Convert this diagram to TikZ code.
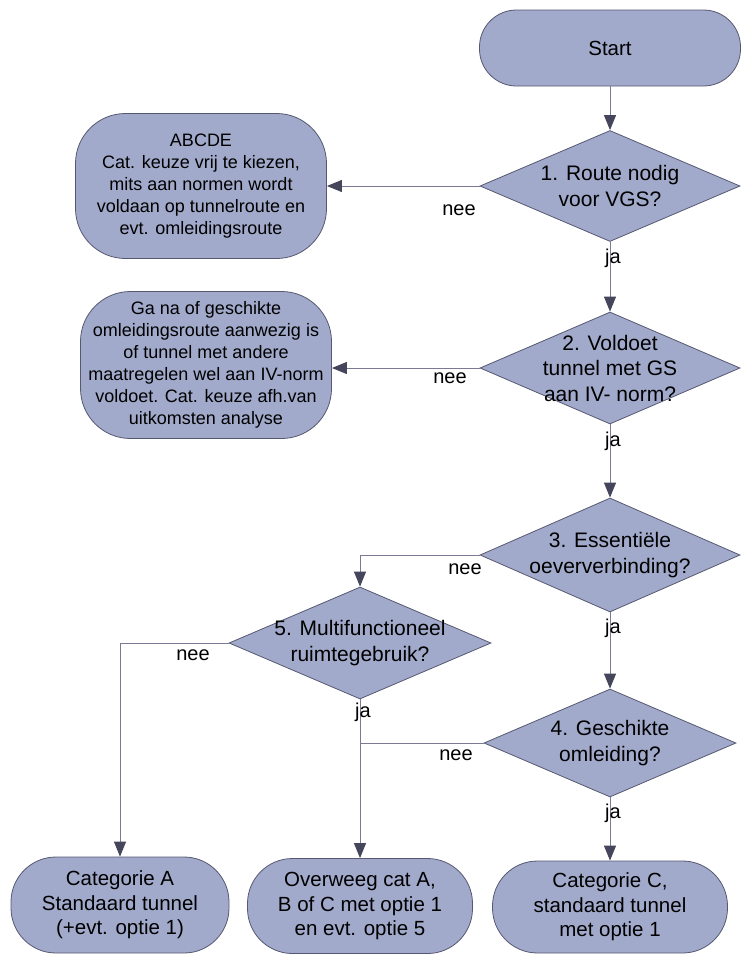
\documentclass[tikz,border=0pt]{standalone}
\usepackage{fontspec}
\setmainfont{Liberation Sans}
\usetikzlibrary{shapes.geometric,arrows.meta}
\definecolor{boxfill}{HTML}{A2AACB}
\definecolor{boxdraw}{HTML}{555870}
\definecolor{linecol}{HTML}{7A7A94}
\definecolor{headcol}{HTML}{45465C}
\tikzset{
  term/.style={draw=boxdraw, fill=boxfill, line width=0.8pt, rounded corners=#1, inner sep=0pt, align=center},
  dia/.style={shape=diamond, draw=boxdraw, fill=boxfill, line width=0.8pt, inner sep=0pt},
  dtxt/.style={font=\fontsize{21}{25.5}\selectfont, align=center, inner sep=0pt},
  btxt/.style={font=\fontsize{18}{22}\selectfont},
  ctxt/.style={font=\fontsize{20.5}{24.5}\selectfont},
  lbl/.style={font=\fontsize{20}{24}\selectfont, inner sep=0pt},
  conn/.style={draw=linecol, line width=1pt, -{Triangle[length=15pt,width=12pt,color=headcol]}},
  plain/.style={draw=linecol, line width=1pt}
}
\begin{document}
\begin{tikzpicture}[x=1pt,y=-1pt]
\useasboundingbox (0,0) rectangle (746,956);

% terminals and boxes
\node[term=37, ctxt, minimum width=261, minimum height=76] (start) at (610,48) {Start};
\node[term=50, btxt, minimum width=251, minimum height=145] (b1) at (201,186)
  {ABCDE\\Cat. keuze vrij te kiezen,\\mits aan normen wordt\\voldaan op tunnelroute en\\evt. omleidingsroute};
\node[term=50, btxt, minimum width=251, minimum height=147] (b2) at (206,365)
  {Ga na of geschikte\\omleidingsroute aanwezig is\\of tunnel met andere\\maatregelen wel aan IV-norm\\voldoet. Cat. keuze afh.van\\uitkomsten analyse};
\node[term=45, ctxt, minimum width=218, minimum height=96] (bA) at (120,905)
  {Categorie A\\Standaard tunnel\\(+evt. optie 1)};
\node[term=45, ctxt, minimum width=225, minimum height=95] (bB) at (360,906)
  {Overweeg cat A,\\B of C met optie 1\\en evt. optie 5};
\node[term=45, ctxt, minimum width=235, minimum height=92] (bC) at (610,907)
  {Categorie C,\\standaard tunnel\\met optie 1};

% decisions
\node[dia, minimum width=260, minimum height=111] (d1) at (610,186) {};
\node[dtxt] (d1t) at (d1) {1. Route nodig\\voor VGS?};
\node[dia, minimum width=260, minimum height=112] (d2) at (610,368) {};
\node[dtxt] (d2t) at (d2) {2. Voldoet\\tunnel met GS\\aan IV- norm?};
\node[dia, minimum width=260, minimum height=114] (d3) at (610,555) {};
\node[dtxt] (d3t) at (d3) {3. Essenti\"ele\\oeververbinding?};
\node[dia, minimum width=262, minimum height=112] (d5) at (360,643) {};
\node[dtxt] (d5t) at (d5) {5. Multifunctioneel\\ruimtegebruik?};
\node[dia, minimum width=252, minimum height=108] (d4) at (610,743) {};
\node[dtxt] (d4t) at (d4) {4. Geschikte\\omleiding?};

% connectors
\draw[conn] (start.south) -- (d1.north);
\draw[conn] (d1.west) -- (b1.east);
\draw[conn] (d1.south) -- (d2.north);
\draw[conn] (d2.west) -- (b2.east |- d2.west);
\draw[conn] (d2.south) -- (d3.north);
\draw[conn] (d3.west) -| (d5.north);
\draw[conn] (d3.south) -- (d4.north);
\draw[conn] (d5.west) -| (bA.north);
\draw[conn] (d5.south) -- (bB.north);
\draw[plain] (d4.west) -- (d4.west -| d5.south);
\draw[conn] (d4.south) -- (bC.north);

% labels
\node[lbl] (n1) at (459,210) {nee};
\node[lbl] (j1) at (613,258) {ja};
\node[lbl] (n2) at (450,378) {nee};
\node[lbl] (j2) at (613,441) {ja};
\node[lbl] (n3) at (465,569) {nee};
\node[lbl] (j3) at (613,628) {ja};
\node[lbl] (n5) at (193,655) {nee};
\node[lbl] (j5) at (363,712) {ja};
\node[lbl] (n4) at (456,755) {nee};
\node[lbl] (j4) at (613,813) {ja};
\end{tikzpicture}
\end{document}
